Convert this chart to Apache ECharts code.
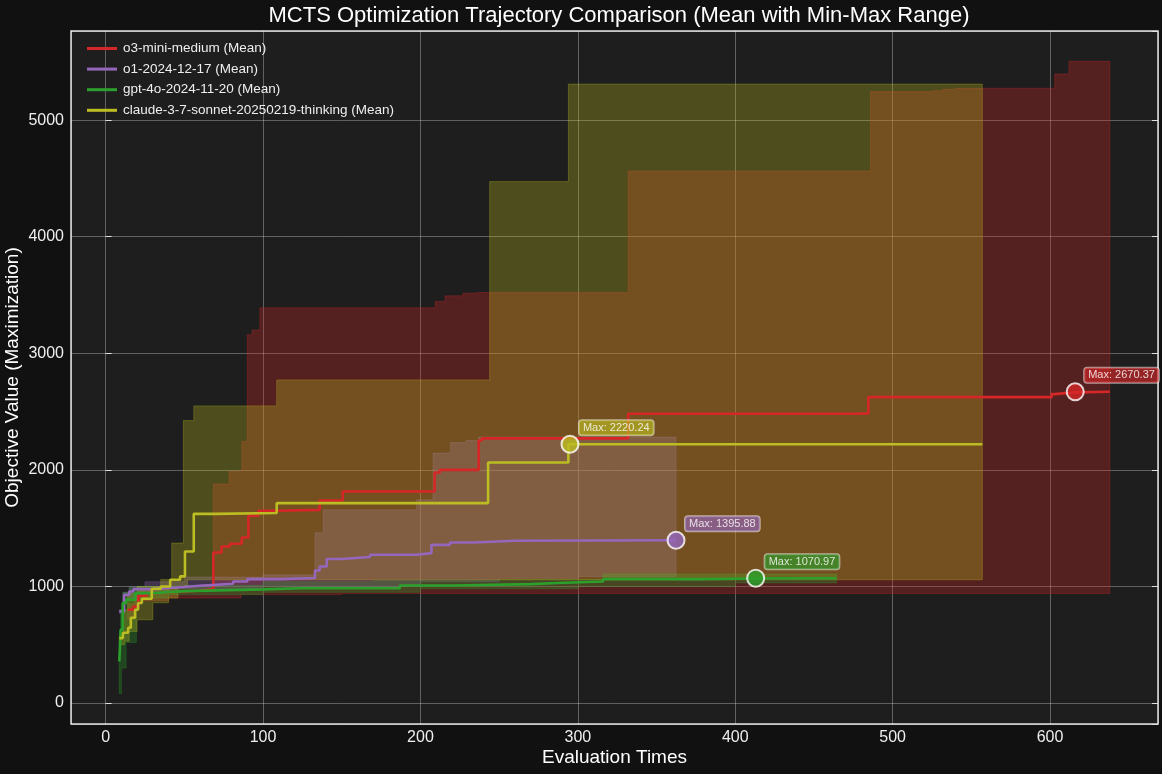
<!DOCTYPE html>
<html>
<head>
<meta charset="utf-8">
<script src="https://cdn.jsdelivr.net/npm/echarts@6/dist/echarts.min.js"></script>
<style>
html,body{margin:0;padding:0;background:#111111;}
#chart{width:1162px;height:774px;}
</style>
</head>
<body>
<div id="chart"></div>
<script>
// ---------- Data ----------
const modelNames = ['o3-mini-medium (Mean)', 'o1-2024-12-17 (Mean)', 'gpt-4o-2024-11-20 (Mean)', 'claude-3-7-sonnet-20250219-thinking (Mean)'];
const modelColors = ['#d62728', '#9467bd', '#2ca02c', '#bcbd22'];

// o3-mini-medium
const o3Mean = [[14,800],[17.6,828],[20.8,920],[26,943],[30,954],[45,963],[60,977],[68.4,1291],[73.7,1343],[79,1366],[86.5,1420],[90.7,1606],[97,1649],[108.7,1657],[136,1737],[150.6,1815],[209,1977],[212.4,2000],[237,2252],[239,2270],[332,2481],[476,2485],[484.6,2624],[601,2650],[603,2665],[616,2670.37],[638,2670.37]];
const o3Max = [[14,850],[18,910],[22,960],[30,990],[50,1005],[60,1015],[68.4,1878],[78.4,1986],[86.5,2243],[90,3160],[93,3200],[98,3390],[209.3,3444],[215.6,3493],[227,3516],[236,3521],[332,4564],[486,5245],[526,5253],[532,5265],[540,5274],[603,5396],[612,5505],[638,5505]];
const o3Min = [[14,720],[18,800],[21,880],[40,900],[86,930],[150,940],[638,943]];

// o1-2024-12-17
const o1Mean = [[8.7,786],[11.7,929],[15,957],[17.6,977],[28,991],[45,1006],[60,1023],[81,1043],[90,1063],[111,1072],[133,1137],[136,1171],[140.5,1235],[150,1252],[168,1272],[197.6,1286],[207,1357],[218.8,1377],[233.6,1392],[260,1395.88],[362.4,1395.88]];
const o1Max = [[8.7,800],[11,950],[15,1000],[25,1040],[50,1080],[100,1100],[133,1460],[138.3,1657],[197.6,1743],[208,2144],[219,2235],[229,2252],[237,2281],[362.4,2281]];
const o1Min = [[8.7,770],[12,880],[20,950],[40,980],[100,1000],[200,1040],[250,1070],[300,1085],[362.4,1090]];

// gpt-4o-2024-11-20
const gptMean = [[8.7,357],[9.5,628],[10.8,857],[13,886],[18.7,943],[30,960],[50,975],[100,985],[123.5,986],[187,1008],[221,1020],[270,1029],[287,1043],[316,1063],[380,1068],[413,1070.97],[464.5,1070.97]];
const gptMax = [[8.7,420],[9.5,800],[11,950],[15,990],[20,1000],[50,1010],[100,1040],[170,1050],[250,1060],[316,1106],[464.5,1106]];
const gptMin = [[8.7,80],[10,300],[13,520],[19.5,900],[40,930],[100,950],[200,980],[300,1000],[400,1030],[464.5,1036]];

// claude-3-7-sonnet-20250219-thinking
const claudeMean = [[8.7,557],[11,603],[14.3,646],[16,731],[18.7,800],[20.6,858],[23,894],[29.3,980],[35,1000],[41,1057],[47.3,1086],[50.4,1300],[56,1623],[70,1630],[108.7,1715],[243,2063],[294,2220.24],[557,2220.24]];
const claudeMax = [[8.7,580],[11,800],[14,940],[20,1000],[35,1060],[42,1372],[49.4,2423],[56,2549],[108.7,2772],[244,4473],[294,5310],[557,5310]];
const claudeMin = [[8.7,500],[12,530],[15,614],[20,714],[30,860],[40,900],[46,1000],[52,1057],[557,1063]];

// Max annotations
const maxX = [616, 362.4, 413, 295];
const maxY = [2670.37, 1395.88, 1070.97, 2220.24];

// Axis ticks
const xTicks = [0,100,200,300,400,500,600];
const yTicks = [0,1000,2000,3000,4000,5000];

const means = [o3Mean, o1Mean, gptMean, claudeMean];
const uppers = [o3Max, o1Max, gptMax, claudeMax];
const lowers = [o3Min, o1Min, gptMin, claudeMin];

// ---------- Helpers ----------
function rgba(hex, a) {
  const r = parseInt(hex.slice(1,3),16), g = parseInt(hex.slice(3,5),16), b = parseInt(hex.slice(5,7),16);
  return 'rgba(' + r + ',' + g + ',' + b + ',' + a + ')';
}
function stepPts(arr) {
  const out = [];
  for (let i = 0; i < arr.length; i++) {
    out.push(arr[i]);
    if (i < arr.length - 1) out.push([arr[i+1][0], arr[i][1]]);
  }
  return out;
}
const FONT = '"Liberation Sans", Arial, Helvetica, sans-serif';

const series = [];
// Bands
for (let i = 0; i < 4; i++) {
  const up = uppers[i], lo = lowers[i], col = modelColors[i];
  series.push({
    type: 'custom',
    name: 'band' + i,
    data: [[0, 0]],
    silent: true,
    z: 1 + i * 0.01,
    renderItem: function (params, api) {
      const pts = [];
      stepPts(up).forEach(p => pts.push(api.coord(p)));
      stepPts(lo).reverse().forEach(p => pts.push(api.coord(p)));
      return {
        type: 'polygon',
        shape: { points: pts },
        style: { fill: rgba(col, 0.3), stroke: rgba(col, 0.3), lineWidth: 1 }
      };
    }
  });
}
// Mean lines
for (let i = 0; i < 4; i++) {
  series.push({
    type: 'line',
    name: modelNames[i],
    data: means[i],
    step: 'end',
    showSymbol: false,
    symbol: 'none',
    silent: true,
    z: 3,
    lineStyle: { width: 2.6, color: modelColors[i] },
    itemStyle: { color: modelColors[i] }
  });
}
// Max markers
series.push({
  type: 'scatter',
  name: 'maxima',
  z: 5,
  symbolSize: 17,
  silent: true,
  itemStyle: { borderColor: '#ffffff', borderWidth: 2 },
  label: {
    show: true,
    formatter: p => 'Max: ' + p.value[1].toFixed(2),
    position: [18.5, 0.5],
    align: 'left',
    verticalAlign: 'bottom',
    color: '#ffffff',
    fontSize: 11,
    fontFamily: FONT,
    padding: [2, 4, 2, 4],
    borderRadius: 3,
    borderColor: 'rgba(255,255,255,0.7)',
    borderWidth: 1
  },
  data: maxX.map((x, i) => ({
    value: [x, maxY[i]],
    itemStyle: { color: modelColors[i] },
    label: { backgroundColor: rgba(modelColors[i], 0.8) }
  }))
});

const gridColor = 'rgba(255,255,255,0.3)';
const frameColor = '#e0e0e0';

const option = {
  backgroundColor: '#111111',
  animation: false,
  title: {
    text: 'MCTS Optimization Trajectory Comparison (Mean with Min-Max Range)',
    left: 614,
    textAlign: 'center',
    top: 0,
    textStyle: { color: '#ffffff', fontSize: 22, fontWeight: 'normal', fontFamily: FONT }
  },
  legend: {
    data: modelNames,
    orient: 'vertical',
    left: 82,
    top: 35,
    icon: 'rect',
    itemWidth: 30,
    itemHeight: 3,
    itemGap: 3.6,
    selectedMode: false,
    textStyle: { color: '#eeeeee', fontSize: 13.5, fontFamily: FONT, lineHeight: 17, padding: [0, 0, 0, 1] }
  },
  grid: {
    left: 71, right: 4, top: 31, bottom: 50,
    containLabel: false,
    outerBoundsMode: 'none',
    show: true,
    backgroundColor: '#1e1e1e',
    borderColor: frameColor,
    borderWidth: 1.5
  },
  xAxis: {
    type: 'value',
    min: -22,
    max: 668.6,
    splitNumber: 7,
    name: 'Evaluation Times',
    nameLocation: 'middle',
    nameGap: 24,
    nameMoveOverlap: false,
    nameTextStyle: { color: '#ffffff', fontSize: 19, fontFamily: FONT },
    axisLine: { show: false },
    axisTick: { show: false },
    axisLabel: {
      color: '#eeeeee', fontSize: 16, fontFamily: FONT, margin: 6,
      showMinLabel: false, showMaxLabel: false,
      formatter: v => (xTicks.indexOf(Math.round(v)) >= 0 && Math.abs(v - Math.round(v)) < 1e-6) ? String(Math.round(v)) : ''
    },
    splitLine: { show: true, lineStyle: { color: gridColor, width: 1 } }
  },
  yAxis: [{
    type: 'value',
    min: -180,
    max: 5765,
    splitNumber: 6,
    name: 'Objective Value (Maximization)',
    nameLocation: 'middle',
    nameGap: 49,
    nameMoveOverlap: false,
    nameTextStyle: { color: '#ffffff', fontSize: 19, fontFamily: FONT },
    axisLine: { show: false },
    axisTick: { show: true, inside: true, length: 6, lineStyle: { color: frameColor } },
    axisLabel: {
      color: '#eeeeee', fontSize: 16, fontFamily: FONT, margin: 7,
      showMinLabel: false, showMaxLabel: false,
      formatter: v => (yTicks.indexOf(Math.round(v)) >= 0 && Math.abs(v - Math.round(v)) < 1e-6) ? String(Math.round(v)) : ''
    },
    splitLine: { show: true, lineStyle: { color: gridColor, width: 1 } }
  }, {
    type: 'value',
    position: 'right',
    min: -180,
    max: 5765,
    splitNumber: 6,
    axisLine: { show: false },
    axisTick: { show: true, inside: true, length: 6, lineStyle: { color: frameColor } },
    axisLabel: { show: false },
    splitLine: { show: false }
  }],
  series: series
};

const chart = echarts.init(document.getElementById('chart'), null, { renderer: 'canvas' });
chart.setOption(option);
</script>
</body>
</html>
